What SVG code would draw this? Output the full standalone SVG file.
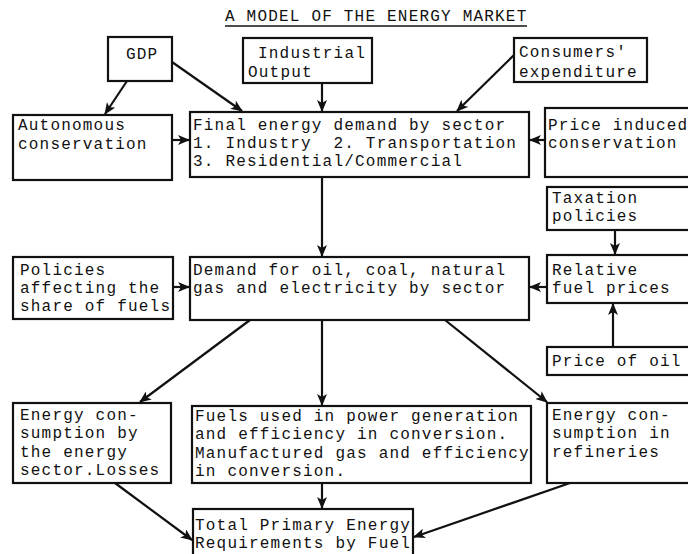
<svg xmlns="http://www.w3.org/2000/svg" width="688" height="554" viewBox="0 0 688 554">
<style>
  .box { fill: #ffffff; stroke: #111111; stroke-width: 2.2; }
  .t { font-family: "Liberation Mono", "DejaVu Sans Mono", monospace; font-size: 16px; letter-spacing: 1.2px; fill: #111111; white-space: pre; }
  .c { fill: none; stroke: #111111; stroke-width: 2.2; marker-end: url(#ah); }
</style>
<defs>
  <marker id="ah" markerUnits="userSpaceOnUse" markerWidth="12" markerHeight="10" refX="11" refY="5" orient="auto">
    <path d="M0,0 L12,5 L0,10 L3,5 z" fill="#111111"/>
  </marker>
</defs>
<rect x="0" y="0" width="688" height="554" fill="#ffffff"/>

<g id="title">
  <text class="t" x="225" y="21">A MODEL OF THE ENERGY MARKET</text>
  <line x1="225" y1="26" x2="527" y2="26" stroke="#111111" stroke-width="1.4"/>
</g>

<g id="gdp">
  <rect class="box" x="108" y="37" width="64" height="44"/>
  <text class="t" x="126" y="59">GDP</text>
</g>
<g id="industrial-output">
  <rect class="box" x="243" y="38" width="129" height="45"/>
  <text class="t" x="258" y="58">Industrial</text>
  <text class="t" x="248" y="77">Output</text>
</g>
<g id="consumers-expenditure">
  <rect class="box" x="514" y="38" width="133" height="44"/>
  <text class="t" x="519" y="57">Consumers'</text>
  <text class="t" x="519" y="77">expenditure</text>
</g>

<g id="autonomous-conservation">
  <rect class="box" x="13" y="115" width="159" height="65"/>
  <text class="t" x="18" y="130">Autonomous</text>
  <text class="t" x="18" y="149">conservation</text>
</g>
<g id="final-energy-demand">
  <rect class="box" x="190" y="112" width="339" height="65"/>
  <text class="t" x="193" y="130">Final energy demand by sector</text>
  <text class="t" x="193" y="148" xml:space="preserve">1. Industry  2. Transportation</text>
  <text class="t" x="193" y="166">3. Residential/Commercial</text>
</g>
<g id="price-induced-conservation">
  <rect class="box" x="545" y="108" width="160" height="69"/>
  <text class="t" x="548" y="130">Price induced</text>
  <text class="t" x="548" y="148">conservation</text>
</g>

<g id="taxation-policies">
  <rect class="box" x="547" y="187" width="160" height="43"/>
  <text class="t" x="552" y="203">Taxation</text>
  <text class="t" x="552" y="221">policies</text>
</g>

<g id="policies-share">
  <rect class="box" x="13" y="257" width="160" height="62"/>
  <text class="t" x="20" y="275">Policies</text>
  <text class="t" x="20" y="293">affecting the</text>
  <text class="t" x="20" y="311">share of fuels</text>
</g>
<g id="demand-by-fuel">
  <rect class="box" x="190" y="257" width="339" height="63"/>
  <text class="t" x="193" y="275">Demand for oil, coal, natural</text>
  <text class="t" x="193" y="293">gas and electricity by sector</text>
</g>
<g id="relative-fuel-prices">
  <rect class="box" x="547" y="255" width="160" height="48"/>
  <text class="t" x="552" y="275">Relative</text>
  <text class="t" x="552" y="293">fuel prices</text>
</g>
<g id="price-of-oil">
  <rect class="box" x="547" y="347" width="160" height="28"/>
  <text class="t" x="552" y="366">Price of oil</text>
</g>

<g id="energy-sector-consumption">
  <rect class="box" x="13" y="403" width="158" height="80"/>
  <text class="t" x="20" y="420">Energy con-</text>
  <text class="t" x="20" y="438">sumption by</text>
  <text class="t" x="20" y="457">the energy</text>
  <text class="t" x="20" y="475">sector.Losses</text>
</g>
<g id="power-generation">
  <rect class="box" x="192" y="406" width="339" height="77"/>
  <text class="t" x="195" y="421">Fuels used in power generation</text>
  <text class="t" x="195" y="439">and efficiency in conversion.</text>
  <text class="t" x="195" y="458">Manufactured gas and efficiency</text>
  <text class="t" x="195" y="476">in conversion.</text>
</g>
<g id="refineries">
  <rect class="box" x="547" y="403" width="160" height="80"/>
  <text class="t" x="552" y="420">Energy con-</text>
  <text class="t" x="552" y="438">sumption in</text>
  <text class="t" x="552" y="457">refineries</text>
</g>
<g id="total-primary-energy">
  <rect class="box" x="193" y="509" width="220" height="60"/>
  <text class="t" x="195" y="530">Total Primary Energy</text>
  <text class="t" x="195" y="548">Requirements by Fuel</text>
</g>

<g id="connectors">
  <line class="c" x1="127" y1="81" x2="105" y2="114"/>
  <line class="c" x1="172" y1="62" x2="242" y2="111"/>
  <line class="c" x1="322" y1="83" x2="322" y2="111"/>
  <line class="c" x1="514" y1="55" x2="457" y2="111"/>
  <line class="c" x1="172" y1="140" x2="189" y2="140"/>
  <line class="c" x1="545" y1="140" x2="530" y2="140"/>
  <line class="c" x1="322" y1="177" x2="322" y2="256"/>
  <line class="c" x1="615" y1="230" x2="615" y2="254"/>
  <line class="c" x1="173" y1="287" x2="189" y2="287"/>
  <line class="c" x1="547" y1="287" x2="530" y2="287"/>
  <line class="c" x1="613" y1="347" x2="613" y2="304"/>
  <line class="c" x1="250" y1="320" x2="140" y2="402"/>
  <line class="c" x1="322" y1="320" x2="322" y2="405"/>
  <line class="c" x1="445" y1="320" x2="547" y2="402"/>
  <line class="c" x1="322" y1="483" x2="322" y2="508"/>
  <line class="c" x1="115" y1="483" x2="192" y2="540"/>
  <line class="c" x1="570" y1="483" x2="414" y2="537"/>
</g>
</svg>
